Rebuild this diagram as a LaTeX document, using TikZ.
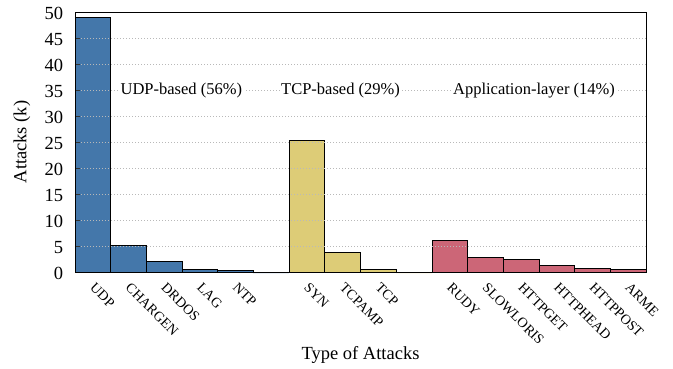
\documentclass[tikz,border=0pt]{standalone}
\usepackage{fontspec}
\setmainfont{Liberation Serif}
\definecolor{cblue}{HTML}{4477AA}
\definecolor{cyell}{HTML}{DDCC77}
\definecolor{cred}{HTML}{CC6677}
\tikzset{
  barbox/.style={draw=black, line width=0.8pt},
  gridline/.style={draw=gray!55, line width=0.6pt, dash pattern=on 1pt off 2pt},
  tickmark/.style={draw=black!80, line width=0.6pt},
  frameline/.style={draw=black, line width=0.8pt},
  grouplabel/.style={fill=white, inner sep=1.5pt, font=\fontsize{16.5}{19}\selectfont},
  ytick/.style={anchor=east, inner sep=0pt, font=\fontsize{18.5}{22}\selectfont},
  xtick/.style={anchor=north west, inner sep=0pt, rotate=-45, font=\fontsize{14}{16}\selectfont},
  axislabel/.style={inner sep=0pt, font=\fontsize{18.5}{22}\selectfont}
}
\begin{document}
\begin{tikzpicture}[x=1pt,y=1pt]
\useasboundingbox (0,0) rectangle (673,368);
\begin{scope}[shift={(75,95.5)}, x=35.69pt, y=5.205pt]
  % bars
  \foreach \i/\h/\c in {0/49.1/cblue, 1/5.3/cblue, 2/2.1/cblue, 3/0.6/cblue, 4/0.35/cblue,
                        5/0/cblue,
                        6/25.3/cyell, 7/3.9/cyell, 8/0.55/cyell,
                        9/0/cyell,
                        10/6.2/cred, 11/2.9/cred, 12/2.6/cred, 13/1.4/cred, 14/0.8/cred, 15/0.6/cred}
    \draw[barbox, fill=\c] (\i,0) rectangle (\i+1,\h);
  % grid on top
  \foreach \v in {5,10,...,45}
    \draw[gridline] (0,\v) -- (16,\v);
  \foreach \v in {5,10,...,45}
    \draw[tickmark] (0,\v) -- ++(5pt,0);
  % frame
  \draw[frameline] (0,0) rectangle (16,50);
  % group labels
  \node[grouplabel] (gudp) at (2.98,35) {UDP-based (56\%)};
  \node[grouplabel] (gtcp) at (7.44,35) {TCP-based (29\%)};
  \node[grouplabel] (gapp) at (12.86,35) {Application-layer (14\%)};
  % y tick labels
  \foreach \v in {0,5,...,50}
    \node[ytick] (yl\v) at ([xshift=-11.7pt,yshift=-0.8pt]0,\v) {\v};
  % x tick labels
  \foreach \i/\t in {0/UDP, 1/CHARGEN, 2/DRDOS, 3/LAG, 4/NTP,
                     6/SYN, 7/TCPAMP, 8/TCP,
                     10/RUDY, 11/SLOWLORIS, 12/HTTPGET, 13/HTTPHEAD, 14/HTTPPOST, 15/ARME}
    \node[xtick] (xl\i) at ([xshift=3pt,yshift=-9.5pt]\i+0.5,0) {\t};
\end{scope}
\node[axislabel, rotate=90] (ylab) at (22,226) {Attacks (k)};
\node[axislabel] (xlab) at (360.5,13) {Type of Attacks};
\end{tikzpicture}
\end{document}
